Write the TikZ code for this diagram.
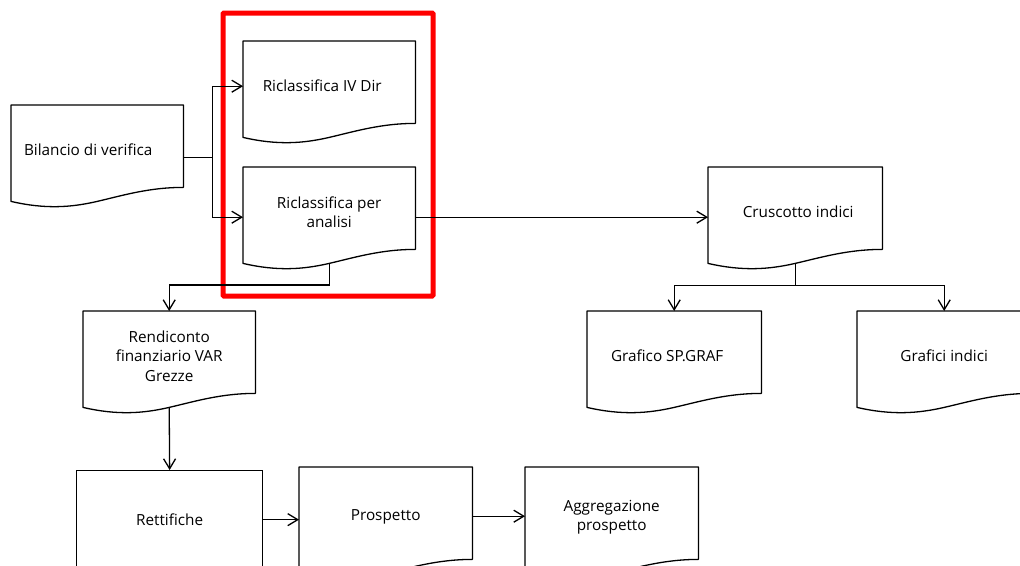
\documentclass[tikz,border=0pt]{standalone}
\usepackage{fontspec}
\setmainfont{Open Sans}
\usetikzlibrary{arrows.meta,calc}
\tikzset{
  doc/.style={rectangle, draw=none, anchor=north west, minimum width=172pt,
    minimum height=90pt, inner sep=0pt, align=center,
    font=\fontsize{15.3}{19.8}\selectfont},
  outl/.style={draw=black, line width=1.3pt, line join=round},
  conn/.style={draw=black, line width=1.3pt},
  arr/.style={conn, -{Straight Barb[length=10pt,width=12pt,line width=1.3pt]}},
  hilite/.style={draw=red, line width=5pt, rounded corners=1pt},
}
\newcommand\docout[1]{%
  \draw[outl] (#1.north west) -- (#1.north east) -- ([yshift=8pt]#1.south east)
    .. controls ([yshift=8pt]$(#1.south west)!0.8!(#1.south east)$)
       and ($(#1.south west)!0.65!(#1.south east)$) .. ([yshift=-6pt]#1.south)
    .. controls ([yshift=-12pt]$(#1.south west)!0.35!(#1.south east)$)
       and ([yshift=-14pt]$(#1.south west)!0.2!(#1.south east)$) .. ([yshift=-6pt]#1.south west)
    -- cycle;}
\begin{document}
\begin{tikzpicture}[x=1pt,y=-1pt]
\useasboundingbox (0,0) rectangle (1020,565);
\clip (0,0) rectangle (1020,565);
\fill[white] (0,0) rectangle (1020,565);
% nodes
\node[doc] (bil) at (11,105) {\hspace*{-18pt}Bilancio di verifica};
\node[doc] (iv) at (243,41) {\hspace*{-14pt}Riclassifica IV Dir};
\node[doc] (an) at (243,167) {Riclassifica per\\analisi};
\node[doc, minimum width=174pt] (crus) at (708,167) {\hspace*{6pt}Cruscotto indici};
\node[doc, minimum width=174pt] (g1) at (587,311) {\hspace*{-14pt}Grafico SP.GRAF};
\node[doc, minimum width=174pt] (g2) at (857,311) {Grafici indici};
\node[doc] (rend) at (83,311) {Rendiconto\\finanziario VAR\\Grezze};
\node[doc, draw=black, line width=1.3pt, minimum width=186pt, minimum height=98pt] (ret) at (76,470) {Rettifiche};
\node[doc, minimum width=173pt, minimum height=100pt] (pros) at (299,467) {Prospetto};
\node[doc, minimum width=173pt, minimum height=100pt] (agg) at (525,467) {Aggregazione\\prospetto};
\foreach \n in {bil,iv,an,crus,g1,g2,rend,pros,agg} {\docout{\n}}
% highlight
\draw[hilite] (223,13) rectangle (433,296);
% connectors
\draw[conn] ([yshift=-7pt]bil.east) -- ++(29,0) coordinate (j1);
\draw[arr] (j1) |- (iv.west);
\draw[arr] (j1) |- ([yshift=-5pt]an.west);
\draw[arr] ([yshift=-5pt]an.east) -- ([yshift=-5pt]crus.west);
\draw[arr] ([yshift=-6pt]an.south) |- ($(rend.north)+(0,-26)$) -- (rend.north);
\draw[conn] ([yshift=-6pt]crus.south) -- ++(0,22) coordinate (j3);
\draw[arr] (j3) -| (g1.north);
\draw[arr] (j3) -| (g2.north);
\draw[arr] ([yshift=-6pt]rend.south) -- (ret.north);
\draw[arr] (ret.east) -- (ret.east -| pros.west);
\draw[arr] ([yshift=1pt]pros.east) -- ([yshift=1pt]agg.west);
\end{tikzpicture}
\end{document}
